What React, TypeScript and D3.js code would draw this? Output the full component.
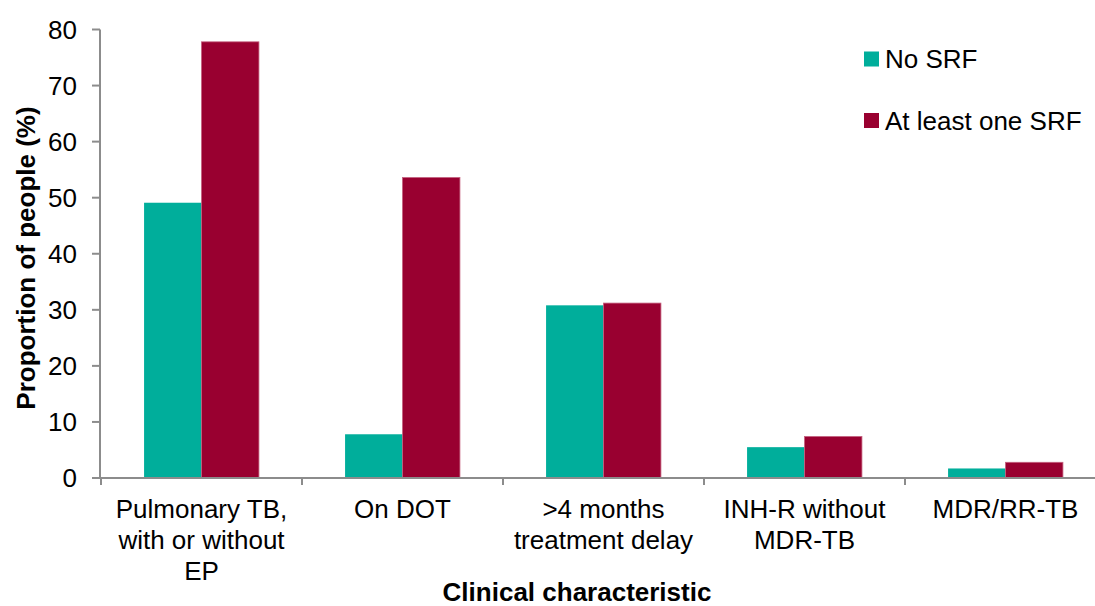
import React from "react";
import * as d3 from "d3";

const categories: string[][] = [
  ["Pulmonary TB,", "with or without", "EP"],
  ["On DOT"],
  [">4 months", "treatment delay"],
  ["INH-R without", "MDR-TB"],
  ["MDR/RR-TB"],
];
const noSRF = [49.1, 7.8, 30.8, 5.5, 1.7];
const atLeastOneSRF = [77.8, 53.6, 31.2, 7.4, 2.8];
const yTicks = [0, 10, 20, 30, 40, 50, 60, 70, 80];
const seriesNames = ["No SRF", "At least one SRF"];

const TEAL = "#00ae9b";
const WINE = "#990030";
const AXIS = "#8c8c8c";
const FONT = "'Liberation Sans', Arial, sans-serif";
const FS = 26;

export default function App() {
  const width = 1095;
  const height = 606;
  const left = 101;
  const right = 1106;
  const top = 29.5;
  const bottom = 478;

  const keys = categories.map((_, i) => String(i));
  const x = d3.scaleBand<string>().domain(keys).range([left, right]).paddingInner(0).paddingOuter(0);
  const inner = d3
    .scaleBand<number>()
    .domain([0, 1])
    .range([0, x.bandwidth()])
    .paddingInner(0)
    .paddingOuter(0.75);
  const y = d3.scaleLinear().domain([0, 80]).range([bottom, top]);

  const series = [noSRF, atLeastOneSRF];
  const colors = [TEAL, WINE];
  const strokes = ["none", "#c4607e"];

  return (
    <svg
      width={width}
      height={height}
      style={{ position: "absolute", left: 0, top: 0, background: "#fff" }}
      fontFamily={FONT}
    >
      {/* bars */}
      {keys.map((k, ci) =>
        series.map((vals, si) => (
          <rect
            key={`${k}-${si}`}
            x={(x(k) as number) + (inner(si) as number)}
            y={y(vals[ci])}
            width={inner.bandwidth()}
            height={y(0) - y(vals[ci])}
            fill={colors[si]}
            stroke={strokes[si]}
            strokeWidth={si === 1 ? 0.8 : 0}
          />
        ))
      )}

      {/* y axis */}
      <line x1={left - 1} x2={left - 1} y1={top} y2={bottom} stroke={AXIS} strokeWidth={2} />
      {yTicks.map((t) => (
        <g key={t}>
          <line x1={left - 9} x2={left - 1} y1={y(t)} y2={y(t)} stroke={AXIS} strokeWidth={2} />
          <text
            x={77}
            y={y(t)}
            textAnchor="end"
            dominantBaseline="central"
            fontSize={FS}
            fill="#000"
          >
            {t}
          </text>
        </g>
      ))}

      {/* x axis */}
      <line x1={left - 1} x2={right} y1={bottom} y2={bottom} stroke={AXIS} strokeWidth={2} />
      {[...keys.map((k) => x(k) as number), right].map((px, i) => (
        <line key={i} x1={px} x2={px} y1={bottom} y2={bottom + 7} stroke={AXIS} strokeWidth={2} />
      ))}
      {categories.map((lines, ci) => (
        <text
          key={ci}
          x={(x(keys[ci]) as number) + x.bandwidth() / 2}
          y={518}
          textAnchor="middle"
          fontSize={FS}
          fill="#000"
        >
          {lines.map((ln, li) => (
            <tspan key={li} x={(x(keys[ci]) as number) + x.bandwidth() / 2} dy={li === 0 ? 0 : 31}>
              {ln}
            </tspan>
          ))}
        </text>
      ))}

      {/* axis titles */}
      <text x={577} y={601} textAnchor="middle" fontSize={FS} fontWeight="bold" fill="#000">
        Clinical characteristic
      </text>
      <text
        transform={`translate(35, 258) rotate(-90)`}
        textAnchor="middle"
        fontSize={FS}
        fontWeight="bold"
        fill="#000"
      >
        Proportion of people (%)
      </text>

      {/* legend */}
      {seriesNames.map((name, i) => (
        <g key={name} transform={`translate(864, ${59 + i * 61.5})`}>
          <rect x={0} y={-7.5} width={15} height={15} fill={colors[i]} />
          <text x={21} y={0} dominantBaseline="central" fontSize={FS} fill="#000">
            {name}
          </text>
        </g>
      ))}
    </svg>
  );
}
